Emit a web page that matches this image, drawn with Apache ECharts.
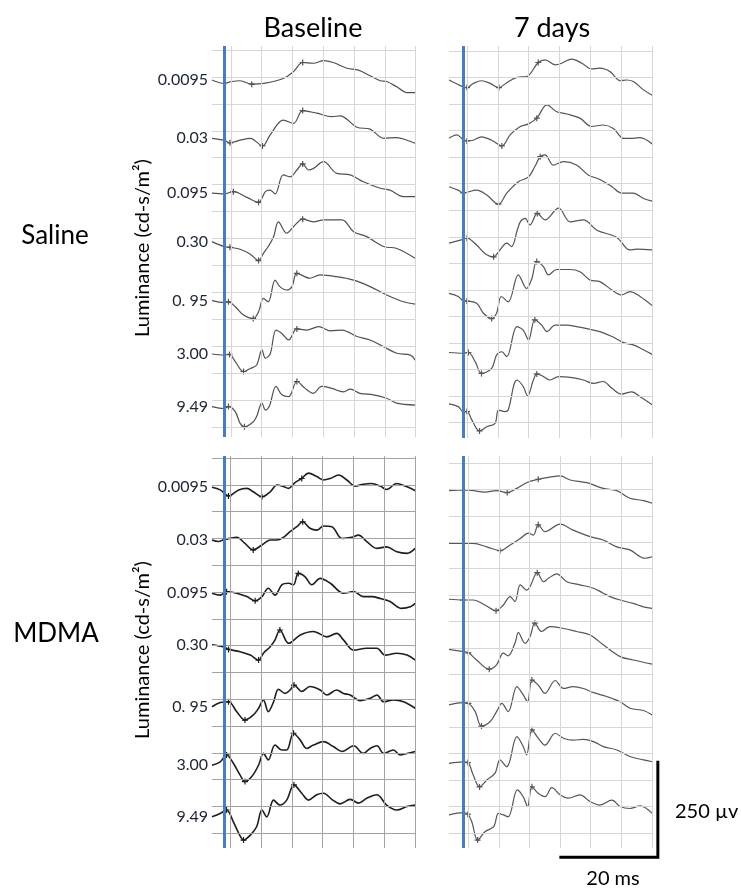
<!DOCTYPE html>
<html>
<head>
<meta charset="utf-8">
<script src="https://cdn.jsdelivr.net/npm/echarts@6/dist/echarts.min.js"></script>
<style>
  html, body { margin: 0; padding: 0; background: #fff; }
  #main { width: 741px; height: 888px; }
</style>
</head>
<body>
<div id="main"></div>
<script>
// flash intensities, one trace per row (cd-s/m2)
var luminance = ['0.0095', '0.03', '0.095', '0.30', '0. 95', '3.00', '9.49'];
var columns = ['Baseline', '7 days'];
var groups = ['Saline', 'MDMA'];

// each trace: [time after flash (ms), amplitude (uV)]
var salineBaseline = [
  [[-2.5,0],[0,-9],[1.6,-4],[3.3,-2],[5.7,-11],[8.1,-9],[12.2,4],[14.3,22],[16.2,46],[18.4,44],[20.5,51],[22.5,46],[25.3,31],[27.7,26],[30.1,11],[32.2,-2],[33.5,-4],[35.6,-18],[37.7,-33],[39.4,-33]],
  [[-2.5,-10],[0,-15],[1.2,-22],[3.3,-15],[5.4,-10],[7.9,-30],[9.5,-1],[12.2,38],[14.3,29],[16.2,63],[19.1,56],[22.2,47],[23.9,49],[27.4,19],[30.1,14],[32.9,-10],[35.6,-8],[37.7,-15],[39.4,-23]],
  [[-2.5,-11],[0,-13],[1.9,-7],[4.7,-22],[7.1,-35],[8.5,-7],[9.5,-3],[10.5,-13],[12.2,37],[13.6,32],[15.0,50],[16.2,66],[17.4,50],[18.4,54],[20.5,72],[23.2,41],[26.0,37],[28.7,19],[32.2,2],[34.2,-3],[37.0,-20],[39.4,-20]],
  [[-2.5,5],[0,-8],[1.2,-10],[3.3,-15],[5.4,-28],[7.1,-45],[8.1,-26],[9.1,-8],[10.2,18],[11.2,57],[12.9,27],[14.3,44],[16.2,64],[18.4,57],[20.5,62],[24.3,62],[26.7,31],[29.4,18],[32.9,-8],[35.6,-13],[39.4,-39]],
  [[-2.5,-7],[0,-12],[0.9,-10],[2.3,-23],[4.0,-45],[6.0,-54],[7.1,-36],[8.1,-1],[9.1,-10],[10.5,47],[11.5,30],[12.9,21],[14.0,30],[15.0,65],[17.7,52],[19.8,61],[23.2,56],[26.7,47],[30.1,30],[33.5,8],[37.0,-10],[39.4,-16]],
  [[-2.5,-4],[0,-7],[1.1,-5],[2.3,-24],[4.0,-50],[5.4,-42],[6.7,-33],[7.8,7],[8.5,-15],[9.5,-4],[10.7,59],[11.9,50],[13.3,33],[15.0,62],[17.0,59],[19.5,68],[21.9,57],[24.3,59],[27.4,42],[30.1,33],[32.9,15],[35.6,-2],[38.4,-7],[39.4,-20]],
  [[-2.5,1],[0,-4],[0.9,1],[2.3,-12],[3.3,-43],[4.2,-52],[6.0,-39],[6.7,-25],[7.8,11],[8.5,-8],[9.3,1],[10.7,54],[11.9,32],[13.3,27],[15.0,67],[16.7,49],[18.4,36],[20.1,54],[22.2,49],[24.6,40],[26.0,47],[28.0,36],[30.8,32],[33.5,23],[35.6,10],[39.4,5]]
];
var salineBaselineMarks = [[4,8],[2,5,9],[2,4,11],[2,5,12],[2,5,13],[2,4,13],[2,5,14]];

var salineDay7 = [
  [[-2.9,0],[0,-18],[0.8,-20],[2.1,-9],[3.8,-2],[5.6,-9],[7.4,-20],[9.0,-7],[11.1,7],[13.1,9],[15.5,46],[16.9,53],[19.0,40],[20.3,44],[22.4,55],[24.5,44],[26.5,29],[28.2,31],[30.3,22],[32.4,-2],[33.7,0],[35.1,-4],[37.2,-26],[39.0,-40]],
  [[-2.9,-10],[-1.3,-1],[0,-13],[0.8,-17],[2.1,-15],[3.8,-6],[5.9,-15],[8.0,-30],[9.7,-1],[11.8,21],[13.5,28],[15.2,43],[17.3,78],[19.3,60],[21.4,54],[24.1,43],[26.5,21],[28.9,25],[31.0,16],[33.1,-10],[35.1,-10],[36.5,-8],[39.0,-25]],
  [[-2.9,6],[-1.0,-3],[0,-10],[2.8,-3],[4.9,-16],[7.3,-40],[9.0,-11],[11.4,19],[13.5,32],[14.8,59],[15.9,85],[16.9,90],[18.6,63],[20.7,72],[23.4,63],[25.8,37],[28.2,25],[30.7,6],[32.7,-11],[35.1,-11],[37.2,-25],[39.0,-32]],
  [[-2.9,1],[0,11],[0.8,14],[2.8,-4],[4.5,-26],[6.3,-35],[7.6,-17],[9.0,1],[10.0,-8],[11.2,36],[11.8,57],[12.8,66],[13.8,49],[15.3,79],[16.9,62],[19.7,93],[22.1,57],[24.8,62],[27.6,35],[31.7,16],[34.4,-17],[35.8,-15],[39.0,-17]],
  [[-2.9,12],[-1.0,4],[0,-7],[0.8,-8],[2.8,-14],[4.2,-40],[5.9,-54],[6.9,-40],[7.9,4],[9.3,-10],[11.4,61],[13.1,25],[14.2,52],[15.2,96],[16.6,82],[17.6,61],[19.3,75],[22.1,75],[24.1,69],[26.2,47],[28.2,43],[30.7,21],[32.7,8],[34.4,17],[36.5,4],[39.0,-20]],
  [[-2.9,0],[0,-2],[1.1,0],[2.5,-24],[3.8,-55],[5.9,-42],[6.9,-7],[8.0,2],[9.0,-11],[11.1,68],[12.4,59],[13.5,33],[14.8,86],[16.2,72],[17.3,55],[19.0,72],[21.4,72],[23.4,68],[26.2,61],[28.2,55],[30.7,42],[33.1,26],[35.1,20],[37.2,7],[39.0,-5]],
  [[-2.9,8],[-1.0,1],[0,-12],[0.8,-12],[1.8,-34],[3.4,-63],[4.9,-52],[6.6,-43],[7.3,-8],[8.7,-12],[9.3,-8],[11.1,71],[12.4,54],[13.3,29],[14.5,71],[15.2,87],[16.6,80],[17.9,71],[19.7,80],[22.1,78],[24.8,71],[26.9,62],[28.9,67],[30.7,49],[32.7,34],[34.8,40],[36.5,27],[39.0,6]]
];
var salineDay7Marks = [[2,6,10],[3,7,11],[2,5,10],[2,5,13],[3,6,13],[2,4,12],[3,5,15]];

var mdmaBaseline = [
  [[-2.5,2],[-0.8,-5],[0.9,-21],[3.0,-5],[4.7,-1],[6.0,-10],[7.8,-23],[9.5,-10],[10.9,8],[12.2,4],[13.3,-1],[14.6,14],[16.0,25],[17.4,39],[19.1,30],[20.5,21],[21.9,25],[23.6,34],[25.3,21],[27.0,5],[28.7,10],[30.4,12],[32.2,5],[33.5,-4],[35.6,12],[37.3,5],[39.4,-7]],
  [[-2.5,6],[-1.2,2],[0.2,8],[2.6,13],[4.3,-3],[6.0,-20],[7.8,-7],[9.5,6],[10.9,6],[12.2,13],[13.6,28],[15.0,41],[16.2,54],[17.7,37],[19.1,32],[20.5,43],[22.2,41],[24.3,10],[26.3,13],[27.7,19],[29.4,2],[31.5,-16],[33.5,-12],[35.6,-25],[37.7,-29],[39.4,-16]],
  [[-2.5,9],[-0.8,4],[0.5,13],[2.6,9],[4.7,0],[6.4,-11],[7.8,0],[9.1,22],[10.5,4],[11.9,31],[13.3,35],[14.3,31],[15.3,61],[16.7,52],[18.1,31],[19.8,48],[21.9,35],[24.6,9],[26.7,13],[28.7,0],[30.4,0],[32.2,-5],[34.2,-13],[36.6,-31],[38.4,-27],[39.4,-18]],
  [[-2.5,16],[0,10],[0.9,4],[3.3,-2],[5.4,-11],[7.1,-24],[8.1,-6],[9.5,11],[10.5,29],[11.5,55],[13.3,20],[15.7,42],[18.4,51],[21.2,37],[23.2,46],[24.6,29],[26.7,2],[29.4,7],[31.5,7],[33.2,-11],[35.6,-6],[37.7,-11],[39.4,-24]],
  [[-2.5,-4],[-0.8,7],[0.9,9],[2.6,-17],[4.3,-39],[6.0,-26],[7.1,-8],[8.1,14],[9.1,-17],[10.2,9],[11.2,42],[12.6,31],[13.6,40],[14.4,53],[16.0,36],[17.7,49],[19.8,40],[21.2,27],[23.2,40],[24.6,31],[26.0,27],[28.0,12],[30.1,18],[31.5,27],[32.9,9],[34.9,14],[37.0,9],[39.4,-8]],
  [[-2.5,-15],[-0.8,-6],[0.5,12],[1.9,-10],[3.3,-41],[4.3,-58],[5.7,-45],[7.1,-15],[8.1,16],[9.1,-1],[10.5,38],[11.9,25],[12.9,25],[14.3,69],[15.7,51],[17.0,29],[18.4,38],[20.5,47],[22.5,34],[24.3,21],[26.7,36],[28.7,16],[30.1,29],[31.5,36],[32.9,16],[34.9,25],[36.3,12],[37.7,16],[39.4,21]],
  [[-2.5,-8],[-0.8,1],[0.5,10],[1.9,-21],[3.2,-56],[4.0,-69],[5.4,-56],[6.7,-34],[7.8,10],[8.8,-8],[10.2,36],[11.5,23],[12.9,36],[14.4,76],[16.0,54],[17.4,36],[19.1,50],[20.5,54],[22.2,38],[23.9,26],[26.0,38],[27.7,28],[29.4,41],[31.5,50],[33.5,23],[35.6,10],[37.7,19],[39.4,23]]
];
var mdmaBaselineMarks = [[2,6,12],[2,5,12],[2,5,12],[2,5,9],[2,4,13],[2,5,13],[2,5,13]];

var mdmaDay7 = [
  [[-2.9,-7],[0,-5],[2.1,-7],[4.5,-11],[6.9,-7],[9.1,-12],[11.1,-1],[13.1,14],[15.5,23],[17.6,28],[20.0,32],[22.1,21],[25.5,14],[28.9,-1],[31.7,-7],[34.4,-27],[37.2,-33],[39.0,-40]],
  [[-2.9,-3],[0,-3],[2.1,-3],[4.9,-12],[7.6,-22],[9.7,-7],[11.8,10],[13.5,24],[14.5,19],[15.5,46],[16.9,28],[20.0,48],[22.7,32],[26.2,15],[28.9,6],[31.7,-12],[34.4,-20],[37.5,-42],[39.0,-38]],
  [[-2.9,-7],[0,-9],[2.1,-9],[4.5,-22],[6.8,-37],[8.3,-22],[9.7,0],[10.7,-13],[11.8,31],[13.1,17],[13.8,26],[15.3,63],[16.6,39],[17.6,48],[19.3,60],[21.4,39],[24.1,31],[26.9,22],[28.9,9],[30.3,0],[32.4,-9],[35.1,-18],[37.2,-27],[39.0,-31]],
  [[-2.9,4],[0,-2],[1.1,-5],[2.8,-24],[5.4,-48],[6.9,-37],[8.3,-6],[9.3,-13],[10.7,20],[11.4,48],[12.8,20],[13.8,37],[14.8,73],[16.2,51],[17.9,64],[20.7,59],[23.4,51],[26.2,42],[28.9,16],[32.4,-15],[35.1,-24],[39.0,-35]],
  [[-2.9,1],[0,7],[1.1,5],[2.5,-17],[3.8,-55],[5.6,-43],[6.9,-17],[8.0,5],[9.3,-17],[11.1,49],[12.4,27],[13.3,9],[14.2,66],[15.5,53],[16.9,31],[19.0,65],[20.7,44],[22.7,49],[24.8,44],[26.9,33],[29.6,23],[32.4,9],[34.4,-8],[37.2,-14],[39.0,-26]],
  [[-2.9,-10],[0,-6],[1.0,-8],[2.1,-41],[3.4,-72],[4.9,-54],[6.6,-36],[7.6,-1],[9.0,-19],[11.1,60],[12.4,34],[13.1,12],[14.2,78],[15.5,56],[16.9,38],[19.0,69],[20.7,56],[22.7,51],[24.8,53],[26.9,47],[28.9,34],[31.7,25],[34.4,8],[37.2,-1],[39.0,-6]],
  [[-2.9,-3],[0,3],[1.0,-1],[1.8,-21],[3.0,-69],[4.5,-47],[6.3,-34],[7.3,1],[8.3,-3],[9.3,-8],[11.2,63],[12.4,45],[13.3,19],[14.2,71],[15.5,54],[16.9,45],[18.3,69],[20.0,50],[21.7,41],[24.1,50],[26.2,32],[28.2,23],[30.7,36],[32.4,19],[34.4,14],[36.5,21],[39.0,1]]
];
var mdmaDay7Marks = [[1,5,8],[1,4,9],[1,4,11],[2,4,12],[2,4,12],[2,4,12],[2,4,13]];

// scale bar
var scaleMs = 20, scaleUv = 250;

var PX_PER_MS = 4.85;   // 20 ms bar ~ 97 px
var UV_PER_PX = 2.63;   // 250 uV bar ~ 95 px
var PLUS = 'path://M4,0h2v4h4v2h-4v4h-2v-4h-4v-2h4z';

var panels = [
  { traces: salineBaseline, marks: salineBaselineMarks, left: 212, top: 46, height: 391, xMin: -2.5, xMax: 39.4,
    base: 80, gap: 54.5, hFirst: 50, hStep: 26.93, vFirst: 1.4, vStep: 6.35,
    gridColor: '#d6d6d6', lineColor: '#505050', lineWidth: 1.2, labels: true },
  { traces: salineDay7, marks: salineDay7Marks, left: 449, top: 46, height: 392, xMin: -2.9, xMax: 39.0,
    base: 80, gap: 54.5, hFirst: 51, hStep: 26.55, vFirst: 0.82, vStep: 6.36,
    gridColor: '#d6d6d6', lineColor: '#555', lineWidth: 1.2, labels: false },
  { traces: mdmaBaseline, marks: mdmaBaselineMarks, left: 212, top: 456, height: 392, xMin: -2.5, xMax: 39.4,
    base: 488, gap: 54.3, hFirst: 458, hStep: 26.8, vFirst: 1.3, vStep: 6.33,
    gridColor: '#a3a3a3', lineColor: '#1e1e1e', lineWidth: 1.6, labels: true },
  { traces: mdmaDay7, marks: mdmaDay7Marks, left: 449, top: 456, height: 392, xMin: -2.9, xMax: 39.0,
    base: 488, gap: 54.3, hFirst: 463, hStep: 26.43, vFirst: 1.1, vStep: 6.3,
    gridColor: '#d6d6d6', lineColor: '#555', lineWidth: 1.2, labels: false }
];

var grids = [], xAxes = [], yAxes = [], series = [];

panels.forEach(function (p, i) {
  grids.push({ left: p.left, top: p.top, width: (p.xMax - p.xMin) * PX_PER_MS, height: p.height });
  xAxes.push({ type: 'value', gridIndex: i, min: p.xMin, max: p.xMax, show: false });
  yAxes.push({ type: 'value', gridIndex: i, min: -(p.top + p.height - p.base) * UV_PER_PX,
               max: (p.base - p.top) * UV_PER_PX, show: false });

  var lines = [];
  for (var k = 0; k < 15; k++) {
    lines.push({ yAxis: (p.base - (p.hFirst + k * p.hStep)) * UV_PER_PX });
  }
  for (var k = 0; k < 6; k++) {
    lines.push({ xAxis: p.vFirst + k * p.vStep });
  }
  lines.push({ xAxis: p.xMax });
  lines.push({ xAxis: 0, lineStyle: { color: '#4a7ebb', width: 3 } });

  series.push({
    type: 'line', xAxisIndex: i, yAxisIndex: i, data: [], silent: true, z: 1,
    markLine: { silent: true, symbol: 'none', label: { show: false }, animation: false,
      lineStyle: { color: p.gridColor, width: 1, type: 'solid' }, data: lines }
  });

  p.traces.forEach(function (tr, j) {
    var off = -j * p.gap * UV_PER_PX;
    var marks = p.marks[j];
    series.push({
      type: 'line', xAxisIndex: i, yAxisIndex: i, z: 3, silent: true,
      smooth: 0.35, symbol: 'none', showSymbol: true, showAllSymbol: true, symbolSize: 6,
      lineStyle: { color: p.lineColor, width: p.lineWidth },
      itemStyle: { color: p.lineColor },
      data: tr.map(function (pt, n) {
        return { value: [pt[0], pt[1] + off], symbol: marks.indexOf(n) >= 0 ? PLUS : 'none' };
      })
    });
  });
});

// 250 uV / 20 ms scale bar, in its own grid with the same ms / uV scale
var barGrid = { left: 540, top: 740, width: 150, height: 140 };
grids.push(barGrid);
xAxes.push({ type: 'value', gridIndex: 4, min: 0, max: barGrid.width / PX_PER_MS, show: false });
yAxes.push({ type: 'value', gridIndex: 4, min: 0, max: barGrid.height * UV_PER_PX, show: false });
var barX = 24.3, barY = 60;
series.push({
  type: 'line', xAxisIndex: 4, yAxisIndex: 4, symbol: 'none', silent: true, z: 5,
  lineStyle: { color: '#000', width: 3, join: 'miter', cap: 'square' },
  data: [[barX - scaleMs, barY], [barX, barY], [barX, barY + scaleUv]]
});

var myChart = echarts.init(document.getElementById('main'));
var font = 'Lato, "Open Sans", sans-serif';
myChart.setOption({
  animation: false,
  backgroundColor: '#fff',
  grid: grids,
  xAxis: xAxes,
  yAxis: yAxes,
  series: series
});

// text: titles, group names, axis names, trace labels
var texts = [
  { type: 'text', x: 313, y: 28, style: { text: columns[0], font: '27px ' + font, fill: '#000', align: 'center', verticalAlign: 'middle' } },
  { type: 'text', x: 552, y: 28, style: { text: columns[1], font: '27px ' + font, fill: '#000', align: 'center', verticalAlign: 'middle' } },
  { type: 'text', x: 55, y: 236, style: { text: groups[0], font: '26px ' + font, fill: '#000', align: 'center', verticalAlign: 'middle' } },
  { type: 'text', x: 56, y: 634, style: { text: groups[1], font: '26px ' + font, fill: '#000', align: 'center', verticalAlign: 'middle' } },
  { type: 'text', x: 143, y: 248, rotation: Math.PI / 2, style: { text: 'Luminance (cd-s/m²)', font: '20px ' + font, fill: '#000', align: 'center', verticalAlign: 'middle' } },
  { type: 'text', x: 143, y: 650, rotation: Math.PI / 2, style: { text: 'Luminance (cd-s/m²)', font: '20px ' + font, fill: '#000', align: 'center', verticalAlign: 'middle' } },
  { type: 'text', x: 675, y: 812, style: { text: scaleUv + ' µv', font: '20px ' + font, fill: '#000', align: 'left', verticalAlign: 'middle' } },
  { type: 'text', x: 613, y: 879, style: { text: scaleMs + ' ms', font: '20px ' + font, fill: '#000', align: 'center', verticalAlign: 'middle' } }
];
panels.forEach(function (p, i) {
  if (!p.labels) return;
  p.traces.forEach(function (tr, j) {
    var off = -j * p.gap * UV_PER_PX;
    var pos = myChart.convertToPixel({ gridIndex: i }, [p.xMin, tr[0][1] + off]);
    texts.push({ type: 'text', x: pos[0] - 4, y: pos[1], style: { text: luminance[j], font: '16px ' + font, fill: '#1c2433', align: 'right', verticalAlign: 'middle' } });
  });
});
myChart.setOption({ graphic: texts });

window.addEventListener('resize', function () {
  myChart.resize();
});
</script>
</body>
</html>
